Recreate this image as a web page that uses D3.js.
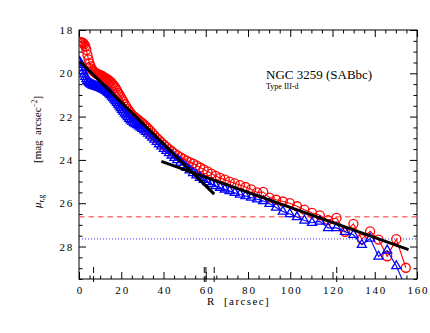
<!DOCTYPE html>
<html>
<head>
<meta charset="utf-8">
<script src="https://cdnjs.cloudflare.com/ajax/libs/d3/7.8.5/d3.min.js"></script>
<style>
  html, body { margin: 0; padding: 0; background: #fff; }
  svg { display: block; font-family: "Liberation Serif", serif; }
</style>
</head>
<body>
<div id="chart"></div>
<script>
// radii of the profile points [arcsec], shared by both bands
var radius = [
  0, 0.5, 1, 1.5, 2, 2.5, 3, 3.5, 4, 4.5,
  5, 5.5, 6, 6.5, 7, 7.5, 8, 8.5, 9, 9.5,
  10, 10.5, 11, 11.5, 12, 12.5, 13, 13.5, 14, 14.5,
  15, 15.6, 16.2, 16.8, 17.4, 18, 18.6, 19.2, 19.8, 20.4,
  21, 21.7, 22.4, 23.1, 23.8, 24.5, 25.2, 26, 26.8, 27.6,
  28.4, 29.2, 30, 30.9, 31.8, 32.7, 33.7, 34.7, 35.7, 36.8,
  37.9, 39, 40.2, 41.4, 42.6, 43.9, 45.2, 46.6, 48, 49.4,
  50.9, 52.4, 54, 55.6, 57.3, 59, 60.8, 62.7, 64.7, 66.8,
  69, 71.3, 73.7, 76.2, 78.8, 81.5, 84.3, 87.2, 90.2, 93.3,
  96.5, 99.8, 103.2, 106.7, 110.3, 114, 117.9, 121.9, 125.9, 129.9,
  133.9, 137.8, 141.8, 145.9, 150.2, 154.7
];
// r band surface brightness (red circles)
var muR = [
  18.55, 18.55, 18.56, 18.58, 18.61, 18.66, 18.75, 18.92, 19.15, 19.36,
  19.54, 19.68, 19.78, 19.86, 19.92, 19.96, 20.0, 20.02, 20.04, 20.06,
  20.08, 20.1, 20.13, 20.16, 20.19, 20.22, 20.25, 20.28, 20.32, 20.36,
  20.4, 20.46, 20.53, 20.61, 20.7, 20.8, 20.9, 21.0, 21.1, 21.2,
  21.3, 21.42, 21.54, 21.65, 21.75, 21.84, 21.92, 21.99, 22.06, 22.12,
  22.18, 22.24, 22.3, 22.38, 22.46, 22.55, 22.65, 22.76, 22.87, 22.98,
  23.09, 23.19, 23.3, 23.4, 23.5, 23.6, 23.7, 23.79, 23.87, 23.95,
  24.03, 24.1, 24.17, 24.25, 24.35, 24.44, 24.53, 24.63, 24.74, 24.83,
  24.91, 25.0, 25.08, 25.16, 25.25, 25.36, 25.5, 25.48, 25.74, 25.84,
  25.92, 26.0, 26.14, 26.3, 26.45, 26.56, 26.78, 26.68, 27.32, 26.95,
  27.66, 27.3, 27.68, 28.45, 27.66, 28.98
];
// g band surface brightness (blue triangles)
var muG = [
  19.45, 19.5, 19.6, 19.75, 19.9, 20.04, 20.16, 20.26, 20.34, 20.4,
  20.45, 20.49, 20.52, 20.55, 20.57, 20.59, 20.6, 20.62, 20.63, 20.65,
  20.67, 20.69, 20.71, 20.73, 20.76, 20.79, 20.82, 20.86, 20.9, 20.95,
  21.0, 21.07, 21.14, 21.21, 21.28, 21.36, 21.44, 21.52, 21.6, 21.68,
  21.76, 21.85, 21.94, 22.02, 22.1, 22.17, 22.23, 22.29, 22.34, 22.39,
  22.44, 22.5, 22.56, 22.63, 22.7, 22.78, 22.87, 22.96, 23.06, 23.16,
  23.27, 23.37, 23.48, 23.58, 23.68, 23.79, 23.9, 24.0, 24.12, 24.24,
  24.36, 24.48, 24.6, 24.71, 24.82, 24.92, 25.02, 25.11, 25.2, 25.28,
  25.36, 25.44, 25.52, 25.6, 25.67, 25.74, 25.82, 25.9, 26.02, 26.2,
  26.38, 26.5, 26.64, 26.8, 26.9, 26.84, 27.14, 27.14, 27.32, 27.46,
  27.92, 27.63, 28.46, 28.18, 28.9, 29.9
];
// exponential disc fits (inner and outer)
var fitInnerR = [0.5, 64.0];
var fitInnerMu = [19.46, 25.58];
var fitOuterR = [39.0, 156.0];
var fitOuterMu = [24.07, 28.14];
// limiting surface brightness: r, g
var limitMu = [26.63, 27.65];
// break / region radii marked on the bottom axis
var markRadii = [6.9, 59.3, 60.1, 64.0, 122.0];
// ticks
var xMajor = [0, 20, 40, 60, 80, 100, 120, 140, 160];
var yMajor = [18, 20, 22, 24, 26, 28];

var W = 430, H = 333;
var padL = 79, padR = 417, padT = 30, padB = 279;

var x = d3.scaleLinear().domain([0, 160]).range([padL, padR]);
var y = d3.scaleLinear().domain([18, 29.5]).range([padT, padB]);

var xMinor = d3.range(0, 160.1, 5).filter(function(d){ return d % 20 !== 0; });
var yMinor = d3.range(18, 29.51, 0.5).filter(function(d){ return d % 2 !== 0; });

var svg = d3.select("#chart").append("svg")
  .attr("width", W).attr("height", H)
  .attr("viewBox", "0 0 " + W + " " + H);

svg.append("defs").append("clipPath").attr("id", "plot-clip")
  .append("rect")
  .attr("x", padL).attr("y", padT)
  .attr("width", padR - padL).attr("height", padB - padT);

//axes: majors with labels on left/bottom, everything ticks inward
function styleAxis(g){
  g.select(".domain").remove();
  g.selectAll(".tick line").attr("stroke", "#000").attr("stroke-width", 1);
  g.selectAll(".tick text")
    .attr("fill", "#000")
    .style("font-family", "'Liberation Serif', serif")
    .style("font-size", "11px")
    .style("letter-spacing", "1.8px");
}

svg.append("g").attr("transform", "translate(0," + padB + ")")
  .call(d3.axisBottom(x).tickValues(xMajor).tickSizeInner(-7).tickSizeOuter(0).tickPadding(7).tickFormat(d3.format("d")))
  .call(styleAxis)
  .selectAll(".tick text").attr("dx", "0.9px");
svg.append("g").attr("transform", "translate(0," + padB + ")")
  .call(d3.axisBottom(x).tickValues(xMinor).tickSizeInner(-3.5).tickSizeOuter(0).tickFormat(""))
  .call(styleAxis);
svg.append("g").attr("transform", "translate(0," + padT + ")")
  .call(d3.axisTop(x).tickValues(xMajor).tickSizeInner(-7).tickSizeOuter(0).tickFormat(""))
  .call(styleAxis);
svg.append("g").attr("transform", "translate(0," + padT + ")")
  .call(d3.axisTop(x).tickValues(xMinor).tickSizeInner(-3.5).tickSizeOuter(0).tickFormat(""))
  .call(styleAxis);

svg.append("g").attr("transform", "translate(" + padL + ",0)")
  .call(d3.axisLeft(y).tickValues(yMajor).tickSizeInner(-7).tickSizeOuter(0).tickPadding(5).tickFormat(d3.format("d")))
  .call(styleAxis);
svg.append("g").attr("transform", "translate(" + padL + ",0)")
  .call(d3.axisLeft(y).tickValues(yMinor).tickSizeInner(-3.5).tickSizeOuter(0).tickFormat(""))
  .call(styleAxis);
svg.append("g").attr("transform", "translate(" + padR + ",0)")
  .call(d3.axisRight(y).tickValues(yMajor).tickSizeInner(-7).tickSizeOuter(0).tickFormat(""))
  .call(styleAxis);
svg.append("g").attr("transform", "translate(" + padR + ",0)")
  .call(d3.axisRight(y).tickValues(yMinor).tickSizeInner(-3.5).tickSizeOuter(0).tickFormat(""))
  .call(styleAxis);

svg.append("rect")
  .attr("x", padL).attr("y", padT)
  .attr("width", padR - padL).attr("height", padB - padT)
  .attr("fill", "none").attr("stroke", "#000").attr("stroke-width", 1);

//break markers
svg.append("g").selectAll("line")
  .data(markRadii)
  .enter().append("line")
  .attr("x1", function(d){ return x(d); })
  .attr("x2", function(d){ return x(d); })
  .attr("y1", padB - 12)
  .attr("y2", padB + 6)
  .attr("stroke", "#000")
  .attr("stroke-width", 1)
  .attr("stroke-dasharray", "6,3");

var plot = svg.append("g").attr("clip-path", "url(#plot-clip)");

//limiting magnitudes
plot.append("line")
  .attr("x1", padL).attr("x2", padR)
  .attr("y1", y(limitMu[0])).attr("y2", y(limitMu[0]))
  .attr("stroke", "#ff3030").attr("stroke-width", 1)
  .attr("stroke-dasharray", "5.5,4");
plot.append("line")
  .attr("x1", padL).attr("x2", padR)
  .attr("y1", y(limitMu[1])).attr("y2", y(limitMu[1]))
  .attr("stroke", "#3030ff").attr("stroke-width", 1)
  .attr("stroke-dasharray", "1,2");

var line = d3.line()
  .x(function(d){ return x(d[0]); })
  .y(function(d){ return y(d[1]); });

var rPts = d3.zip(radius, muR);
var gPts = d3.zip(radius, muG);

//r band
plot.append("path")
  .datum(rPts)
  .attr("d", line)
  .attr("fill", "none").attr("stroke", "#ff0000").attr("stroke-width", 1.1);
plot.append("g").selectAll("circle")
  .data(rPts)
  .enter().append("circle")
  .attr("cx", function(d){ return x(d[0]); })
  .attr("cy", function(d){ return y(d[1]); })
  .attr("r", 4.5)
  .attr("fill", "none")
  .attr("stroke", "#ff0000")
  .attr("stroke-width", 1.3);

//g band
var tri = d3.symbol().type(d3.symbolTriangle).size(36);
plot.append("path")
  .datum(gPts)
  .attr("d", line)
  .attr("fill", "none").attr("stroke", "#0000ff").attr("stroke-width", 1.1);
plot.append("g").selectAll("path")
  .data(gPts)
  .enter().append("path")
  .attr("d", tri)
  .attr("transform", function(d){ return "translate(" + x(d[0]) + "," + y(d[1]) + ")"; })
  .attr("fill", "none")
  .attr("stroke", "#0000ff")
  .attr("stroke-width", 1.3);

//fits
[[fitInnerR, fitInnerMu], [fitOuterR, fitOuterMu]].forEach(function(f){
  plot.append("path")
    .datum(d3.zip(f[0], f[1]))
    .attr("d", line)
    .attr("fill", "none")
    .attr("stroke", "#000")
    .attr("stroke-width", 3);
});

//labels
svg.append("text")
  .attr("x", 266).attr("y", 79)
  .style("font-size", "13px")
  .text("NGC 3259 (SABbc)");
svg.append("text")
  .attr("x", 266).attr("y", 89)
  .style("font-size", "8px")
  .text("Type III-d");

svg.append("text")
  .attr("x", 207).attr("y", 305)
  .style("font-size", "11px")
  .style("letter-spacing", "1.4px")
  .style("white-space", "pre")
  .text("R  [arcsec]");

var muLab = svg.append("text")
  .attr("transform", "translate(41,208) rotate(-90)")
  .style("font-size", "11px");
muLab.append("tspan").style("font-style", "italic").text("\u03bc");
muLab.append("tspan").attr("dy", 2.5).style("font-size", "7.5px").text("r,g");

var unitLab = svg.append("text")
  .attr("transform", "translate(41,163) rotate(-90)")
  .style("font-size", "11px")
  .style("white-space", "pre");
unitLab.append("tspan").text("[mag  arcsec");
unitLab.append("tspan").attr("dy", -4).style("font-size", "7.5px").text("\u22122");
unitLab.append("tspan").attr("dy", 4).text("]");
</script>
</body>
</html>
